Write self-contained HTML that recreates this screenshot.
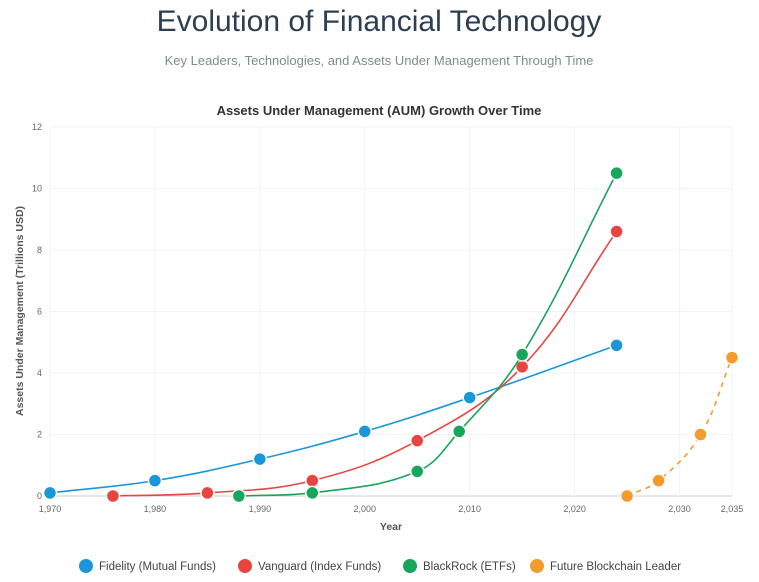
<!DOCTYPE html>
<html><head><meta charset="utf-8"><style>
body{margin:0;background:#fff;width:759px;height:577px;overflow:hidden;font-family:"Liberation Sans",sans-serif}
</style></head><body>
<svg id="s" width="759" height="577" xmlns="http://www.w3.org/2000/svg" font-family="Liberation Sans, sans-serif">
<text x="379" y="31" text-anchor="middle" font-size="30" fill="#2c3e50">Evolution of Financial Technology</text>
<text x="379" y="65" text-anchor="middle" font-size="13" fill="#7f8c8d">Key Leaders, Technologies, and Assets Under Management Through Time</text>
<text x="379" y="115" text-anchor="middle" font-size="13" font-weight="bold" fill="#333">Assets Under Management (AUM) Growth Over Time</text>
<text transform="translate(23,311) rotate(-90)" text-anchor="middle" font-size="10.5" font-weight="bold" fill="#555">Assets Under Management (Trillions USD)</text>
<text x="391" y="530" text-anchor="middle" font-size="10.5" font-weight="bold" fill="#555">Year</text>
<g id="grid"></g><g id="ser"></g>
<g font-size="11.5" fill="#444">
<circle cx="86" cy="566" r="7" fill="#1a97d8"/><text x="99" y="570">Fidelity (Mutual Funds)</text>
<circle cx="245" cy="566" r="7" fill="#e84440"/><text x="258" y="570">Vanguard (Index Funds)</text>
<circle cx="410" cy="566" r="7" fill="#18a55c"/><text x="423" y="570">BlackRock (ETFs)</text>
<circle cx="537" cy="566" r="7" fill="#f39c2b"/><text x="550" y="570">Future Blockchain Leader</text>
</g>
</svg>
<script>
var X=function(y){return 50+(y-1970)*682/65},Y=function(v){return 496-v*30.75};
var g='';
for(var v=0;v<=12;v+=2){g+='<line x1="50" x2="732" y1="'+Y(v)+'" y2="'+Y(v)+'" stroke="'+(v==0?'#ccc':'#f1f3f5')+'"/>';
g+='<text x="42" y="'+(Y(v)+3)+'" text-anchor="end" font-size="9" fill="#666">'+v+'</text>';}
[1970,1980,1990,2000,2010,2020,2030,2035].forEach(function(y){g+='<line y1="127" y2="496" x1="'+X(y)+'" x2="'+X(y)+'" stroke="#f1f3f5"/>';
g+='<text x="'+X(y)+'" y="512" text-anchor="middle" font-size="9" fill="#666">'+(''+y).replace(/^(\d)/,'$1,')+'</text>';});
document.getElementById('grid').innerHTML=g;
var S=[
['#1a97d8',[[1970,.1],[1980,.5],[1990,1.2],[2000,2.1],[2010,3.2],[2024,4.9]],0],
['#e84440',[[1976,0],[1985,.1],[1995,.5],[2005,1.8],[2015,4.2],[2024,8.6]],0],
['#18a55c',[[1988,0],[1995,.1],[2005,.8],[2009,2.1],[2015,4.6],[2024,10.5]],0],
['#f39c2b',[[2025,0],[2028,.5],[2032,2],[2035,4.5]],1]];
var h='';
S.forEach(function(s){
var p=s[1].map(function(d){return [X(d[0]),Y(d[1])]}),t=.4,n=p.length,d='M'+p[0][0]+','+p[0][1];
var cp=[];
for(var i=0;i<n;i++){var a=p[Math.max(i-1,0)],b=p[i],c=p[Math.min(i+1,n-1)];
var d01=Math.hypot(b[0]-a[0],b[1]-a[1]),d12=Math.hypot(c[0]-b[0],c[1]-b[1]);
var fa=d01/(d01+d12)||0,fb=d12/(d01+d12)||0;fa*=t;fb*=t;
cp.push([[b[0]-fa*(c[0]-a[0]),b[1]-fa*(c[1]-a[1])],[b[0]+fb*(c[0]-a[0]),b[1]+fb*(c[1]-a[1])]]);}
for(var i=1;i<n;i++){var c1=cp[i-1][1],c2=cp[i][0];
c1[1]=Math.min(c1[1],496);c2[1]=Math.min(c2[1],496);
d+=' C'+c1[0]+','+c1[1]+' '+c2[0]+','+c2[1]+' '+p[i][0]+','+p[i][1];}
h+='<path d="'+d+'" fill="none" stroke="'+s[0]+'" stroke-width="1.6"'+(s[2]?' stroke-dasharray="5,5"':'')+'/>';
p.forEach(function(q){h+='<circle cx="'+q[0]+'" cy="'+q[1]+'" r="6.5" fill="'+s[0]+'" stroke="#fff" stroke-width="1.5"/>';});
});
document.getElementById('ser').innerHTML=h;
</script>
</body></html>
